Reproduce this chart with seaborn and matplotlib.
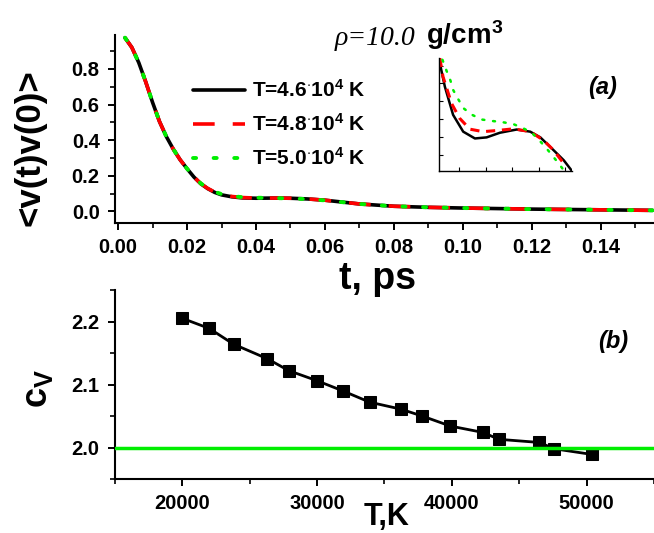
import numpy as np
import pandas as pd
import matplotlib
matplotlib.use("Agg")
import matplotlib.pyplot as plt
from matplotlib.ticker import MultipleLocator, FormatStrFormatter
import seaborn as sns

# ---------------- data ----------------
t_main = [0.002, 0.004, 0.006, 0.008, 0.010, 0.012, 0.014, 0.016, 0.018, 0.020,
          0.022, 0.024, 0.026, 0.028, 0.030, 0.033, 0.036, 0.040, 0.045, 0.050,
          0.055, 0.060, 0.070, 0.080, 0.090, 0.100, 0.110, 0.120, 0.130, 0.140, 0.155]
v_46 = [0.975, 0.920, 0.835, 0.728, 0.612, 0.505, 0.420, 0.350, 0.290, 0.240,
        0.193, 0.155, 0.128, 0.107, 0.093, 0.082, 0.076, 0.074, 0.075, 0.074,
        0.070, 0.063, 0.042, 0.029, 0.023, 0.019, 0.016, 0.013, 0.011, 0.009, 0.006]
v_48 = [0.975, 0.920, 0.835, 0.728, 0.612, 0.505, 0.420, 0.350, 0.290, 0.240,
        0.193, 0.156, 0.129, 0.109, 0.095, 0.084, 0.078, 0.075, 0.075, 0.074,
        0.070, 0.063, 0.042, 0.029, 0.023, 0.019, 0.016, 0.013, 0.011, 0.009, 0.006]
v_50 = [0.975, 0.920, 0.835, 0.728, 0.612, 0.505, 0.420, 0.350, 0.290, 0.240,
        0.194, 0.157, 0.131, 0.111, 0.097, 0.086, 0.080, 0.077, 0.075, 0.073,
        0.069, 0.062, 0.042, 0.029, 0.023, 0.019, 0.016, 0.013, 0.011, 0.009, 0.006]

# inset (zoom of the plateau region)
t_in_46 = [0.0328, 0.0347, 0.0378, 0.0416, 0.0460, 0.0504, 0.0554, 0.0617, 0.0668, 0.0706, 0.0756, 0.0794, 0.0825]
v_in_46 = [0.0907, 0.0841, 0.0762, 0.0715, 0.0696, 0.0699, 0.0712, 0.0721, 0.0715, 0.0699, 0.0663, 0.0635, 0.0605]
t_in_48 = [0.0328, 0.0340, 0.0372, 0.0403, 0.0441, 0.0491, 0.0554, 0.0605, 0.0668, 0.0718, 0.0756, 0.0794]
v_in_48 = [0.0921, 0.0869, 0.0794, 0.0752, 0.0722, 0.0715, 0.0719, 0.0723, 0.0715, 0.0691, 0.0663, 0.0626]
t_in_50 = [0.0338, 0.0353, 0.0368, 0.0378, 0.0397, 0.0418, 0.0447, 0.0485, 0.0523, 0.0561, 0.0605,
           0.0643, 0.0674, 0.0699, 0.0724, 0.0750, 0.0775, 0.0794]
v_in_50 = [0.0916, 0.0886, 0.0858, 0.0832, 0.0806, 0.0780, 0.0763, 0.0749, 0.0745, 0.0742, 0.0736,
           0.0724, 0.0712, 0.0693, 0.0673, 0.0649, 0.0626, 0.0607]

labels = [r"T=4.6$^{\cdot}$10$^{4}$ K", r"T=4.8$^{\cdot}$10$^{4}$ K", r"T=5.0$^{\cdot}$10$^{4}$ K"]

# heat capacity
T_K = [20000, 22000, 23800, 26300, 27900, 30000, 31900, 33900, 36200, 37800,
       39900, 42300, 43500, 46500, 47600, 50400]
c_v = [2.205, 2.189, 2.164, 2.141, 2.122, 2.106, 2.090, 2.072, 2.061, 2.050,
       2.034, 2.024, 2.013, 2.008, 1.998, 1.989]
cv_ref = 2.0

# ---------------- style ----------------
sns.set_style("ticks")
plt.rcParams["font.family"] = ["Liberation Sans", "DejaVu Sans"]
plt.rcParams["font.weight"] = "bold"
plt.rcParams["mathtext.fontset"] = "custom"
plt.rcParams["mathtext.rm"] = "Liberation Sans:bold"
plt.rcParams["mathtext.bf"] = "Liberation Sans:bold"
plt.rcParams["mathtext.it"] = "Liberation Sans:italic:bold"
plt.rcParams["mathtext.default"] = "rm"
for k in ("text.color", "axes.labelcolor", "xtick.color", "ytick.color", "axes.edgecolor"):
    plt.rcParams[k] = "black"

BLACK, RED, GREEN = "#000000", "#ff0000", "#00ee00"
fig = plt.figure(figsize=(6.54, 5.33), dpi=100)

def style_axes(ax):
    sns.despine(ax=ax)
    for s in ("left", "bottom"):
        ax.spines[s].set_linewidth(1.5)
    ax.tick_params(which="major", length=5, width=1.4, labelsize=14.5, direction="out", pad=6)
    ax.tick_params(which="minor", length=3.5, width=1.2, direction="out")
    for lab in ax.get_xticklabels() + ax.get_yticklabels():
        lab.set_fontweight("bold")

# ---- top panel ----
ax1 = fig.add_axes([0.1758, 0.5816, 0.824, 0.3527])
df1 = pd.DataFrame({"t": t_main * 3, "v": v_46 + v_48 + v_50,
                    "T": [labels[0]] * len(t_main) + [labels[1]] * len(t_main) + [labels[2]] * len(t_main)})
sns.lineplot(data=df1[df1["T"] == labels[0]], x="t", y="v", ax=ax1, color=BLACK, lw=2.6, label=labels[0])
sns.lineplot(data=df1[df1["T"] == labels[1]], x="t", y="v", ax=ax1, color=RED, lw=2.6,
             dashes=False, label=labels[1])
sns.lineplot(data=df1[df1["T"] == labels[2]], x="t", y="v", ax=ax1, color=GREEN, lw=2.8,
             dashes=False, label=labels[2])
lines = ax1.get_lines()
lines[1].set_linestyle((0, (6, 5)))
lines[2].set_linestyle((0, (0.8, 4.5)))
lines[2].set_dash_capstyle("round")
ax1.set_xlim(-0.0009, 0.1554)
ax1.set_ylim(-0.065, 0.99)
ax1.xaxis.set_major_locator(MultipleLocator(0.02))
ax1.xaxis.set_minor_locator(MultipleLocator(0.01))
ax1.yaxis.set_major_locator(MultipleLocator(0.2))
ax1.yaxis.set_minor_locator(MultipleLocator(0.1))
ax1.xaxis.set_major_formatter(FormatStrFormatter("%.2f"))
ax1.yaxis.set_major_formatter(FormatStrFormatter("%.1f"))
style_axes(ax1)
ax1.set_xlabel("t, ps", fontsize=27, fontweight="bold", va="center")
ax1.xaxis.set_label_coords(0.488, -0.300)
ax1.set_ylabel("<v(t)v(0)>", fontsize=25, fontweight="bold", va="center")
ax1.yaxis.set_label_coords(-0.158, 0.40)
leg = ax1.legend(loc="upper left", bbox_to_anchor=(0.13, 0.81), frameon=False,
                 fontsize=15, handlelength=2.5, labelspacing=0.58, handletextpad=0.3,
                 borderaxespad=0)
for txt in leg.get_texts():
    txt.set_fontweight("bold")
ax1.text(0.905, 0.72, "(a)", transform=ax1.transAxes, fontsize=17,
         fontweight="bold", style="italic", ha="center", va="center")

# title pieces
fig.text(335 / 654, 1 - 45 / 533, "\u03c1=10.0", fontsize=20, ha="left", va="baseline",
         family="Liberation Serif", style="italic", weight="normal")
fig.text(426 / 654, 1 - 44 / 533, r"g/cm$^{3}$", fontsize=20, ha="left", va="baseline",
         fontweight="bold")

# ---- inset ----
axi = fig.add_axes([439 / 654, 1 - 171 / 533, 133 / 654, 113 / 533])
sns.lineplot(x=t_in_46, y=v_in_46, ax=axi, color=BLACK, lw=1.8)
sns.lineplot(x=t_in_48, y=v_in_48, ax=axi, color=RED, lw=2.2)
sns.lineplot(x=t_in_50, y=v_in_50, ax=axi, color=GREEN, lw=1.8)
il = axi.get_lines()
il[1].set_linestyle((0, (3, 2.2)))
il[2].set_linestyle((0, (0.8, 3.5)))
il[2].set_dash_capstyle("round")
axi.set_xlim(0.0325, 0.0825)
axi.set_ylim(0.0605, 0.0921)
axi.xaxis.set_major_locator(MultipleLocator(0.01))
axi.yaxis.set_major_locator(MultipleLocator(0.005))
axi.tick_params(direction="in", length=3, width=0.8, labelbottom=False, labelleft=False)
sns.despine(ax=axi)
for s in ("left", "bottom"):
    axi.spines[s].set_linewidth(1.0)
axi.patch.set_alpha(0)

# ---- bottom panel ----
ax2 = fig.add_axes([0.1758, 0.1013, 0.824, 0.3546])
ax2.set_facecolor("none")
df2 = pd.DataFrame({"T": T_K, "cv": c_v})
sns.lineplot(data=df2, x="T", y="cv", ax=ax2, color=BLACK, lw=2.0, marker="s",
             markersize=8, markeredgecolor=BLACK, markerfacecolor=BLACK)
ax2.axhline(cv_ref, color=GREEN, lw=2.5, zorder=5)
ax2.set_xlim(15000, 55000)
ax2.set_ylim(1.95, 2.25)
ax2.xaxis.set_major_locator(MultipleLocator(10000))
ax2.xaxis.set_minor_locator(MultipleLocator(5000))
ax2.yaxis.set_major_locator(MultipleLocator(0.1))
ax2.yaxis.set_minor_locator(MultipleLocator(0.05))
ax2.xaxis.set_major_formatter(FormatStrFormatter("%d"))
ax2.yaxis.set_major_formatter(FormatStrFormatter("%.1f"))
style_axes(ax2)
ax2.set_xlabel("T,K", fontsize=22, fontweight="bold", va="bottom")
ax2.xaxis.set_label_coords(0.504, -0.278)
ax2.set_ylabel(r"c$_{\mathrm{V}}$", fontsize=26, fontweight="bold", va="center")
ax2.yaxis.set_label_coords(-0.143, 0.48)
ax2.text(0.925, 0.73, "(b)", transform=ax2.transAxes, fontsize=17,
         fontweight="bold", style="italic", ha="center", va="center")

fig.savefig("out.png", dpi=100)
